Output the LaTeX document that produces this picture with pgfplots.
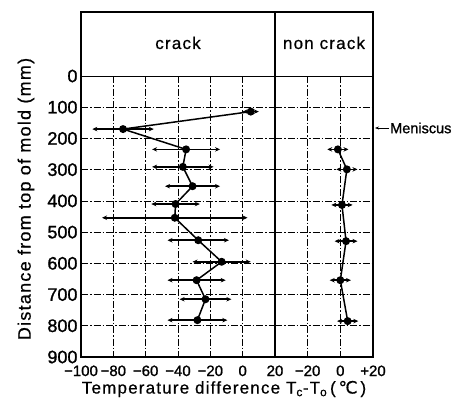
\documentclass[border=0pt]{standalone}
\usepackage{fontspec}
\setmainfont{Liberation Sans}
\newfontfamily\tickfont[FakeBold=1.2]{Liberation Sans}
\newfontfamily\labfont[FakeBold=0.6, LetterSpace=7]{Liberation Sans}
\newfontfamily\dejavu[FakeBold=0.6]{DejaVu Sans}
\usepackage{pgfplots}
\pgfplotsset{compat=1.18}
\usepackage{pgfplotstable}
\usetikzlibrary{arrows.meta}

\pgfplotstableread{
x y ex
5 114 5
-74 170 19
-35 235 21
-37 291 19
-31 353 17
-41.5 410 15
-42 454 45
-27.5 526 19
-13 595 18
-28.5 654 18
-23 715 16
-28 782 18.5
}\crack

\pgfplotstableread{
x y ex
-1.5 235 6.5
4 299 6.5
1 413 6.5
3.5 529 7
0 654 6.5
4.5 785 6.5
}\noncrack

\tikzset{gridl/.style={line width=0.6pt, dash pattern=on 7pt off 2pt on 1.5pt off 2pt}}

\begin{document}
\begin{tikzpicture}
\path[use as bounding box] (0pt,0pt) rectangle (464pt,-399pt);
\pgfplotsset{
  panel/.style={scale only axis, height=345pt, ymin=-205, ymax=900, y dir=reverse,
    axis line style={line width=1.6pt}, major tick length=0pt,
    x tick label style={font=\tickfont\fontsize{15}{15}\selectfont, yshift=-5pt},
    y tick label style={font=\tickfont\fontsize{18}{18}\selectfont},
    clip=false},
  series/.style={black, line width=1.5pt, mark=*, mark size=3.2pt,
    error bars/x dir=both, error bars/x explicit, error bars/error mark=none,
    error bars/error bar style={line width=1.6pt, -{Stealth[length=5pt,width=4.5pt]}}},
}
\begin{axis}[panel, at={(81pt,-357pt)}, anchor=south west, width=194pt,
  xmin=-100, xmax=20, xtick={-100,-80,-60,-40,-20,0,20},
  xticklabels={−100,−80,−60,−40,−20,0,20},
  ytick={0,100,200,300,400,500,600,700,800,900},
  yticklabels={0,100,200,300,400,500,600,700,800,900}]
\pgfplotsinvokeforeach{-80,-60,-40,-20,0}{\draw[gridl] (axis cs:#1,0) -- (axis cs:#1,900);}
\pgfplotsinvokeforeach{100,200,300,400,500,600,700,800}{\draw[gridl] (axis cs:-100,#1) -- (axis cs:20,#1);}
\draw[line width=1pt] (axis cs:-100,0) -- (axis cs:20,0);
\node[font=\labfont\fontsize{17}{17}\selectfont] at (axis cs:-40,-106) {crack};
\addplot[series] table[x=x, y=y, x error=ex] {\crack};
\end{axis}
\begin{axis}[panel, at={(275pt,-357pt)}, anchor=south west, width=98pt,
  xmin=-40, xmax=20, xtick={-20,0,20}, xticklabels={−20,0,+20}, ytick=\empty]
\pgfplotsinvokeforeach{-20,0}{\draw[gridl] (axis cs:#1,0) -- (axis cs:#1,900);}
\pgfplotsinvokeforeach{100,200,300,400,500,600,700,800}{\draw[gridl] (axis cs:-40,#1) -- (axis cs:20,#1);}
\draw[line width=1pt] (axis cs:-40,0) -- (axis cs:20,0);
\node[font=\labfont\fontsize{17}{17}\selectfont] at (axis cs:-10,-106) {non crack};
\addplot[series] table[x=x, y=y, x error=ex] {\noncrack};
\end{axis}
\draw[line width=0.7pt, -{Stealth[length=4pt,width=3pt]}] (389pt,-128pt) -- (375pt,-128pt);
\node[anchor=west, font=\tickfont\fontsize{14.5}{14.5}\selectfont, inner sep=1pt] at (389pt,-128pt) {Meniscus};
\node[font=\labfont\fontsize{17}{17}\selectfont] at (224pt,-389pt) {Temperature difference T\textsubscript{c}-T\textsubscript{o}\,(\,{\dejavu ℃}\,)};
\node[rotate=90, font=\labfont\fontsize{18}{18}\selectfont] at (26pt,-199pt) {Distance from top of mold (mm)};
\end{tikzpicture}
\end{document}
